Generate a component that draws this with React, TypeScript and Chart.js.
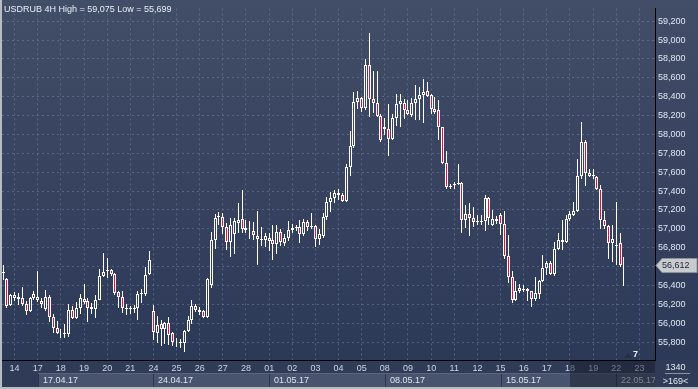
import React, { useEffect, useRef } from 'react';
import { Chart, registerables } from 'chart.js';

Chart.register(...registerables);

const TITLE = 'USDRUB 4H High = 59,075 Low = 55,699';

const OPEN = [
  56540, 56464, 56188, 56267, 56277, 56264, 56208, 56125, 56264, 56277,
  56236, 56146, 56274, 56066, 55949, 55900, 55893, 55887, 56139, 56053,
  56156, 56229, 56232, 56153, 56153, 56250, 56502, 56551, 56568, 56520,
  56326, 56281, 56163, 56153, 56163, 56156, 56309, 56309, 56516, 56129,
  55893, 55990, 55935, 56001, 55893, 55800, 55797, 55790, 55921, 56035,
  56181, 56136, 56129, 56070, 56400, 56883, 57125, 57121, 57021, 56855,
  56942, 57063, 57104, 57011, 56990, 56976, 56924, 56897, 56880, 56870,
  56883, 56838, 56969, 56848, 56907, 56990, 57007, 57018, 56942, 57073,
  57031, 57028, 56897, 56924, 57121, 57287, 57329, 57374, 57363, 57294,
  57657, 57875, 58342, 58384, 58283, 58733, 58377, 58332, 58200, 58076,
  58062, 57951, 58179, 58325, 58335, 58256, 58210, 58332, 58370, 58422,
  58456, 58422, 58273, 58256, 58076, 57695, 57453, 57477, 57470, 57488,
  57097, 57156, 57114, 57080, 57080, 57080, 57329, 57045, 57100, 57142,
  57052, 56717, 56492, 56250, 56336, 56364, 56364, 56336, 56260, 56308,
  56447, 56585, 56637, 56519, 56786, 56883, 56855, 57104, 57146, 57190,
  57564, 57920, 57592, 57575, 57554, 57426, 57097, 57028, 56848, 56828,
  56848, 56620
];
const HIGH = [
  56615, 56482, 56309, 56329, 56319, 56388, 56232, 56274, 56343, 56554,
  56267, 56354, 56295, 56094, 56018, 55938, 55990, 56198, 56181, 56226,
  56309, 56419, 56267, 56215, 56302, 56571, 56741, 56689, 56578, 56527,
  56336, 56336, 56198, 56181, 56191, 56343, 56364, 56596, 56762, 56191,
  56077, 56032, 56010, 56066, 55904, 55845, 55828, 55931, 56077, 56243,
  56198, 56170, 56136, 56475, 56966, 57156, 57173, 57166, 57063, 57111,
  57115, 57270, 57415, 57097, 57087, 57070, 57184, 57021, 56959, 56959,
  57045, 57045, 57000, 56942, 57080, 57052, 57045, 57097, 57104, 57097,
  57166, 57045, 56993, 57166, 57339, 57391, 57408, 57418, 57374, 57685,
  58037, 58453, 58463, 58394, 58799, 59075, 58671, 58671, 58221, 58169,
  58318, 58214, 58429, 58429, 58377, 58360, 58387, 58522, 58498, 58584,
  58550, 58429, 58394, 58360, 58083, 57823, 57470, 57494, 57685, 57494,
  57253, 57270, 57235, 57149, 57149, 57356, 57339, 57201, 57132, 57166,
  57184, 56934, 56550, 56450, 56412, 56405, 56371, 56343, 56492, 56457,
  56727, 56654, 56654, 56855, 56959, 57090, 57149, 57184, 57280, 57737,
  58135, 57944, 57633, 57633, 57564, 57460, 57184, 57045, 57035, 57287,
  56959, 56699
];
const LOW = [
  56462, 56163, 56181, 56232, 56191, 56181, 56084, 56118, 56250, 56226,
  56163, 56129, 56008, 55893, 55887, 55842, 55842, 55852, 56042, 56042,
  56101, 56198, 56008, 56094, 56060, 56243, 56492, 56482, 56502, 56302,
  56163, 56111, 56087, 56094, 56111, 56032, 56215, 56284, 56509, 55817,
  55790, 55759, 55780, 55766, 55755, 55748, 55741, 55699, 55904, 55990,
  56122, 56084, 56060, 56060, 56371, 56786, 57045, 56942, 56776, 56706,
  56734, 56959, 56959, 56959, 56890, 56883, 56620, 56820, 56803, 56762,
  56665, 56734, 56820, 56820, 56872, 56959, 56976, 56848, 56924, 56976,
  57000, 56803, 56827, 56906, 57097, 57183, 57270, 57304, 57287, 57280,
  57557, 57858, 58273, 58238, 58256, 58186, 58228, 58186, 57917, 57996,
  57771, 57937, 58090, 58083, 58159, 58204, 58186, 58152, 58152, 58124,
  58394, 58221, 58214, 57944, 57685, 57418, 57418, 57425, 57460, 56959,
  57011, 56924, 57018, 57045, 57045, 56976, 57045, 57028, 57055, 56931,
  56675, 56422, 56215, 56232, 56319, 56329, 56232, 56170, 56239, 56260,
  56433, 56509, 56509, 56502, 56775, 56779, 56848, 57080, 57132, 57173,
  57529, 57450, 57547, 57529, 57415, 56993, 56993, 56682, 56647, 56613,
  56595, 56398
];
const CLOSE = [
  56530, 56181, 56295, 56295, 56260, 56205, 56129, 56264, 56312, 56243,
  56198, 56274, 56066, 55949, 55893, 55893, 55887, 56136, 56053, 56156,
  56264, 56253, 56163, 56174, 56250, 56502, 56544, 56568, 56520, 56319,
  56277, 56156, 56153, 56163, 56153, 56312, 56316, 56513, 56665, 55904,
  55983, 55938, 55997, 55879, 55800, 55797, 55790, 55921, 56035, 56181,
  56136, 56122, 56070, 56464, 56883, 57111, 57139, 57021, 56855, 57045,
  57080, 57094, 57000, 56983, 56983, 56931, 56890, 56880, 56924, 56907,
  56838, 56969, 56855, 56907, 56986, 57007, 57021, 56942, 57070, 57021,
  57021, 56897, 56942, 57121, 57287, 57329, 57384, 57357, 57294, 57650,
  57875, 58342, 58384, 58283, 58733, 58377, 58332, 58200, 57937, 58062,
  57951, 58179, 58325, 58349, 58263, 58221, 58332, 58370, 58422, 58453,
  58411, 58273, 58238, 58076, 57695, 57443, 57443, 57467, 57488, 57097,
  57156, 57114, 57073, 57070, 57073, 57322, 57114, 57104, 57080, 57052,
  56717, 56492, 56250, 56336, 56378, 56353, 56336, 56260, 56319, 56450,
  56585, 56637, 56519, 56786, 56883, 56855, 57104, 57156, 57190, 57564,
  57920, 57592, 57564, 57557, 57426, 57097, 57028, 56848, 56897, 56817,
  56620, 56612
];

const DAY_TICKS = [3, 9, 15, 21, 27, 33, 39, 45, 51, 57, 63, 69, 75, 81, 87, 93, 99, 105, 111, 117, 123, 129, 135, 141, 147, 153, 159, 165];
const DAY_LABELS = ['14', '17', '18', '19', '20', '21', '24', '25', '26', '27', '28', '01', '02', '03', '04', '05', '08', '09', '10', '11', '12', '15', '16', '17', '18', '19', '22', '23'];
const WEEK_STARTS = [9, 39, 69, 99, 129, 159];
const WEEK_LABELS = ['17.04.17', '24.04.17', '01.05.17', '08.05.17', '15.05.17', '22.05.17'];
const Y_TICKS = [55800, 56000, 56200, 56400, 56600, 56800, 57000, 57200, 57400, 57600, 57800, 58000, 58200, 58400, 58600, 58800, 59000, 59200];
const DIM_FROM = 147;
const SHIFT_LABEL = '7';
const INFO_TOP = '1340';
const INFO_BOTTOM = '>169<';

const FONT = '"Liberation Sans", Arial, sans-serif';
const fmt = (v: number) => Number(v).toLocaleString('en-US');

export default function App() {
  const ref = useRef<HTMLCanvasElement | null>(null);

  useEffect(() => {
    if (!ref.current) return;
    const idx = CLOSE.map((_, i) => i);
    const lowerWick = idx.map((i) => ({ x: i, y: [LOW[i], Math.min(OPEN[i], CLOSE[i])] }));
    const upperWick = idx.map((i) => ({ x: i, y: [Math.max(OPEN[i], CLOSE[i]), HIGH[i]] }));
    const bull = idx.filter((i) => CLOSE[i] >= OPEN[i]).map((i) => ({ x: i, y: [OPEN[i], CLOSE[i]] }));
    const bear = idx.filter((i) => CLOSE[i] < OPEN[i]).map((i) => ({ x: i, y: [CLOSE[i], OPEN[i]] }));

    const common = { grouped: false, borderSkipped: false, inflateAmount: 0 } as any;

    const bgPlugin = {
      id: 'bg',
      beforeDraw(chart: any) {
        const { ctx, chartArea: ca, width, height } = chart;
        ctx.save();
        const g = ctx.createLinearGradient(0, 0, 0, ca.bottom);
        g.addColorStop(0, '#424d67');
        g.addColorStop(1, '#2c3957');
        ctx.fillStyle = g;
        ctx.fillRect(0, 0, width, ca.bottom);
        ctx.fillStyle = '#2f3b57';
        ctx.fillRect(0, ca.bottom, width, height - ca.bottom);
        ctx.restore();
      },
    };

    const snapPlugin = {
      id: 'snap',
      beforeDatasetsDraw(chart: any) {
        chart.data.datasets.forEach((_: any, di: number) => {
          const meta = chart.getDatasetMeta(di);
          meta.data.forEach((el: any) => {
            el.x = Math.floor(el.x) + 0.5;
            el.y = Math.round(el.y);
            el.base = Math.round(el.base);
          });
        });
      },
    };

    const overlayPlugin = {
      id: 'overlay',
      afterDraw(chart: any) {
        const { ctx, chartArea: ca, width, height } = chart;
        const xs = chart.scales.x;
        const ys = chart.scales.y;
        ctx.save();
        // week band
        ctx.beginPath();
        ctx.rect(ca.left, ca.bottom + 1, ca.right - ca.left, height - ca.bottom);
        ctx.clip();
        WEEK_STARTS.forEach((w, k) => {
          const x0 = Math.round(xs.getPixelForValue(w));
          const x1 = k + 1 < WEEK_STARTS.length ? Math.round(xs.getPixelForValue(WEEK_STARTS[k + 1])) : ca.right;
          ctx.fillStyle = '#48546d';
          ctx.fillRect(x0, 373, x1 - x0, 14);
          ctx.fillStyle = '#2a3550';
          ctx.fillRect(x0, 373, 1, 14);
          ctx.fillStyle = '#5a6680';
          ctx.fillRect(x0, 373, x1 - x0, 1);
          ctx.fillStyle = '#dde4ee';
          ctx.font = `9px ${FONT}`;
          ctx.textBaseline = 'middle';
          ctx.textAlign = 'left';
          ctx.fillText(WEEK_LABELS[k], x0 + 5, 380.5);
        });
        // dim region
        const xd = Math.round(xs.getPixelForValue(DIM_FROM));
        ctx.fillStyle = 'rgba(22,28,44,0.5)';
        ctx.fillRect(xd, ca.bottom + 1, ca.right - xd, height - ca.bottom);
        ctx.restore();

        ctx.save();
        // borders
        ctx.fillStyle = '#b7bcc4';
        ctx.fillRect(0, 0, 2, height);
        ctx.fillRect(0, height - 2, width, 2);

        // title
        ctx.font = `9px ${FONT}`;
        ctx.fillStyle = '#e8edf5';
        ctx.textBaseline = 'alphabetic';
        ctx.textAlign = 'left';
        ctx.fillText(TITLE, 4, 12);

        // current price label
        const last = CLOSE[CLOSE.length - 1];
        const py = Math.round(ys.getPixelForValue(last)) + 0.5;
        ctx.beginPath();
        ctx.moveTo(ca.right + 1, py);
        ctx.lineTo(ca.right + 7, py - 7);
        ctx.lineTo(width - 1, py - 7);
        ctx.lineTo(width - 1, py + 7);
        ctx.lineTo(ca.right + 7, py + 7);
        ctx.closePath();
        ctx.fillStyle = '#c9cbce';
        ctx.fill();
        ctx.strokeStyle = '#8e939b';
        ctx.lineWidth = 1;
        ctx.stroke();
        ctx.fillStyle = '#1c2536';
        ctx.textBaseline = 'middle';
        ctx.fillText(fmt(last), ca.right + 7, py);

        // shift marker
        const tx = ca.right - 31;
        ctx.beginPath();
        ctx.moveTo(tx, ca.bottom - 2);
        ctx.lineTo(tx + 8, ca.bottom - 2);
        ctx.lineTo(tx + 4, ca.bottom - 7);
        ctx.closePath();
        ctx.fillStyle = '#262e40';
        ctx.fill();
        ctx.fillStyle = '#eef2f8';
        ctx.font = `bold 9px ${FONT}`;
        ctx.fillText(SHIFT_LABEL, tx + 9, ca.bottom - 5);

        // info panel
        ctx.font = `9px ${FONT}`;
        ctx.textAlign = 'center';
        const cx = (ca.right + width) / 2 - 1;
        ctx.fillStyle = '#e3e8f0';
        ctx.fillText(INFO_TOP, cx, ca.bottom + 7.5);
        ctx.fillText(INFO_BOTTOM, cx, ca.bottom + 21.5);
        ctx.fillStyle = '#8a93a3';
        ctx.fillRect(ca.right + 10, ca.bottom + 13, 25, 1);
        ctx.restore();
      },
    };

    const grid = { color: 'rgba(120,136,162,0.5)', lineWidth: 1, drawTicks: false, offset: false };
    const border = { display: true, color: '#000000', width: 1, dash: [2, 3] };

    const chart = new Chart(ref.current, {
      type: 'bar',
      data: {
        datasets: [
          { ...common, data: lowerWick, barThickness: 1, backgroundColor: '#ffffff', borderWidth: 0 },
          { ...common, data: upperWick, barThickness: 1, backgroundColor: '#ffffff', borderWidth: 0 },
          { ...common, data: bull, barThickness: 3, backgroundColor: 'rgba(0,0,0,0)', borderColor: '#ffffff', borderWidth: 1 },
          { ...common, data: bear, barThickness: 3, backgroundColor: '#dc143c', borderColor: '#ffffff', borderWidth: 1 },
        ] as any,
      },
      options: {
        animation: false,
        responsive: false,
        maintainAspectRatio: false,
        devicePixelRatio: 1,
        layout: { padding: { left: 2, top: 1, right: 0, bottom: 0 } },
        plugins: { legend: { display: false }, tooltip: { enabled: false }, title: { display: false } },
        scales: {
          x: {
            type: 'linear',
            position: 'bottom',
            min: -0.26,
            max: 169.04,
            offset: false,
            afterBuildTicks: (s: any) => {
              s.ticks = DAY_TICKS.map((v) => ({ value: v }));
            },
            afterFit: (s: any) => {
              s.height = 29;
            },
            ticks: {
              autoSkip: false,
              maxRotation: 0,
              padding: 3.5,
              color: '#cdd5e2',
              font: { family: FONT, size: 9 },
              callback: (v: any) => {
                const k = DAY_TICKS.indexOf(Number(v));
                return k >= 0 ? DAY_LABELS[k] : '';
              },
            },
            grid,
            border,
          },
          y: {
            type: 'linear',
            position: 'right',
            min: 55610,
            max: 59335,
            afterBuildTicks: (s: any) => {
              s.ticks = Y_TICKS.map((v) => ({ value: v }));
            },
            afterFit: (s: any) => {
              s.width = 43;
            },
            ticks: {
              padding: 3,
              crossAlign: 'near',
              color: '#dfe7f3',
              font: { family: FONT, size: 9 },
              callback: (v: any) => fmt(Number(v)),
            },
            grid,
            border,
          },
        },
      } as any,
      plugins: [bgPlugin, snapPlugin, overlayPlugin],
    });
    return () => chart.destroy();
  }, []);

  return (
    <div style={{ position: 'absolute', left: 0, top: 0, width: 698, height: 389 }}>
      <canvas ref={ref} width={698} height={389} style={{ display: 'block', width: 698, height: 389 }} />
    </div>
  );
}
